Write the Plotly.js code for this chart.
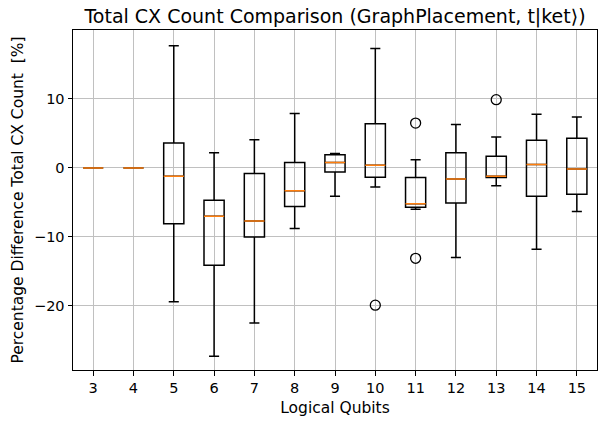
<!DOCTYPE html>
<html>
<head>
<meta charset="utf-8">
<script src="https://cdn.plot.ly/plotly-3.0.1.min.js"></script>
<style>html,body{margin:0;padding:0;background:#fff;}</style>
</head>
<body>
<div id="chart" style="width:598px;height:426px;"></div>
<script>
const qubits = [3, 4, 5, 6, 7, 8, 9, 10, 11, 12, 13, 14, 15];
const lowerWhisker = [0, 0, -19.4, -27.3, -22.5, -8.8, -4.1, -2.75, -6.0, -13.0, -2.6, -11.8, -6.3];
const q1 = [0, 0, -8.1, -14.1, -10.0, -5.6, -0.6, -1.35, -5.7, -5.1, -1.4, -4.1, -3.8];
const median = [0, 0, -1.2, -7.0, -7.7, -3.3, 0.8, 0.4, -5.2, -1.6, -1.2, 0.5, -0.15];
const q3 = [0, 0, 3.6, -4.7, -0.8, 0.8, 1.9, 6.4, -1.4, 2.2, 1.7, 4.0, 4.3];
const upperWhisker = [0, 0, 17.7, 2.2, 4.1, 7.9, 2.1, 17.3, 1.2, 6.3, 4.5, 7.8, 7.4];
const outlierX = [10, 11, 11, 13];
const outlierY = [-19.9, 6.5, -13.1, 9.9];
const xTickLabels = qubits.map(String);

const font = {family: 'DejaVu Sans, sans-serif', color: '#000'};

const boxes = {
  type: 'box',
  x: qubits,
  q1: q1,
  median: median,
  q3: q3,
  lowerfence: lowerWhisker,
  upperfence: upperWhisker,
  width: 0.5,
  whiskerwidth: 0.5,
  fillcolor: 'rgba(0,0,0,0)',
  line: {color: '#000', width: 1.5},
  boxpoints: false,
  hoverinfo: 'skip',
  showlegend: false
};
const medians = {
  type: 'box',
  x: qubits,
  q1: median,
  median: median,
  q3: median,
  lowerfence: median,
  upperfence: median,
  width: 0.5,
  whiskerwidth: 0,
  fillcolor: 'rgba(0,0,0,0)',
  line: {color: '#ff7f0e', width: 1.5},
  boxpoints: false,
  hoverinfo: 'skip',
  showlegend: false
};
const fliers = {
  type: 'scatter',
  mode: 'markers',
  x: outlierX,
  y: outlierY,
  marker: {symbol: 'circle-open', size: 10, color: '#000', line: {width: 1.3, color: '#000'}},
  hoverinfo: 'skip',
  showlegend: false
};

const layout = {
  width: 598,
  height: 426,
  margin: {l: 73, r: 1, t: 30, b: 56},
  paper_bgcolor: '#fff',
  plot_bgcolor: '#fff',
  boxmode: 'overlay',
  showlegend: false,
  title: {
    text: 'Total CX Count Comparison (GraphPlacement, t|ket\u27E9)',
    font: Object.assign({}, font, {size: 19}),
    xref: 'paper', x: 0.5, xanchor: 'center',
    y: 1, yref: 'paper', yanchor: 'bottom', pad: {b: 7}
  },
  xaxis: {
    range: [2.5, 15.5],
    tickmode: 'array',
    tickvals: qubits,
    ticktext: xTickLabels,
    ticks: 'outside', ticklen: 4.5, tickwidth: 1, tickcolor: '#000',
    showgrid: true, gridcolor: '#c0c0c0', gridwidth: 1,
    showline: true, linecolor: '#000', linewidth: 1, mirror: true,
    zeroline: false,
    tickfont: Object.assign({}, font, {size: 14.5}),
    title: {text: 'Logical Qubits', font: Object.assign({}, font, {size: 15.5}), standoff: 7}
  },
  yaxis: {
    range: [-29.3, 20],
    tickmode: 'array',
    tickvals: [-20, -10, 0, 10],
    ticks: 'outside', ticklen: 4.5, tickwidth: 1, tickcolor: '#000',
    showgrid: true, gridcolor: '#c0c0c0', gridwidth: 1,
    showline: true, linecolor: '#000', linewidth: 1, mirror: true,
    zeroline: false,
    tickfont: Object.assign({}, font, {size: 14.5}),
    title: {text: 'Percentage Difference Total CX Count  [%]', font: Object.assign({}, font, {size: 15.5}), standoff: 6}
  }
};

Plotly.newPlot('chart', [boxes, medians, fliers], layout, {displayModeBar: false, staticPlot: true});
</script>
</body>
</html>
